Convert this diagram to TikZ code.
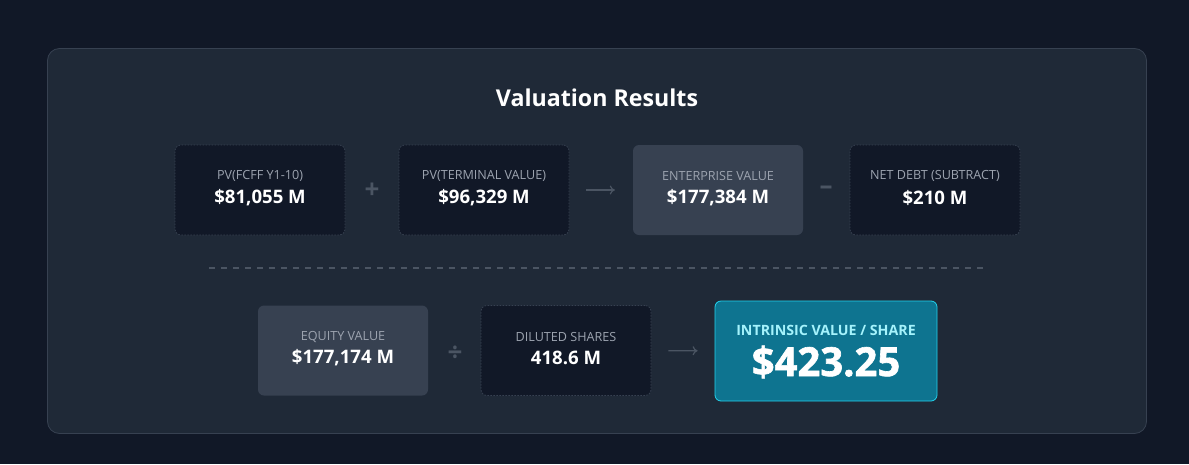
\documentclass[tikz,border=0pt]{standalone}
\usepackage{fontspec}
\setmainfont{Open Sans}
\newfontfamily\heavyfont{Open Sans}[BoldFeatures={FakeBold=1.6}]
\usetikzlibrary{arrows.meta,calc}

\definecolor{pagebg}{HTML}{111827}
\definecolor{panelbg}{HTML}{1F2937}
\definecolor{edge}{HTML}{374151}
\definecolor{lightbox}{HTML}{374151}
\definecolor{lbltext}{HTML}{9CA3AF}
\definecolor{optext}{HTML}{4B5563}
\definecolor{tealbox}{HTML}{0E7490}
\definecolor{tealedge}{HTML}{22D3EE}
\definecolor{teallbl}{HTML}{A5F3FC}

\begin{document}
\begin{tikzpicture}[x=1pt,y=-1pt,
    darkbox/.style={draw=edge,fill=pagebg,line width=0.8pt,dash pattern=on 1.5pt off 1.5pt,rounded corners=6pt,minimum width=170pt,minimum height=90pt,inner sep=0pt},
    litebox/.style={fill=lightbox,rounded corners=6pt,minimum width=170pt,minimum height=90pt,inner sep=0pt},
    lbl/.style={text=lbltext,font=\fontsize{12.6}{14}\selectfont,inner sep=0pt},
    val/.style={text=white,font=\fontsize{18.6}{21}\selectfont\bfseries,inner sep=0pt},
    op/.style={text=optext,font=\fontsize{26}{28}\selectfont\bfseries,inner sep=0pt},
    arr/.style={draw=optext,line width=1.2pt,-{To[length=5pt,width=9pt]}}]
    \useasboundingbox (0,0) rectangle (1189,464);
    \fill [pagebg] (0,0) rectangle (1189,464);
    \draw [edge,fill=panelbg,line width=0.8pt,rounded corners=12pt] (47.5,48.5) rectangle (1146.5,433.5);

    \node [text=white,font=\fontsize{23.2}{26}\selectfont\bfseries] (title) at (597,98) {Valuation Results};

    % first row
    \node [darkbox] (fcff) at (260,190) {};
    \node [darkbox] (tv)   at (484,190) {};
    \node [litebox] (ev)   at (718,190) {};
    \node [darkbox] (debt) at (935,190) {};

    \node [lbl] (fcff-l) at ($(fcff.center)+(0,-14)$) {PV(FCFF Y1-10)};
    \node [val] (fcff-v) at ($(fcff.center)+(0,8)$) {\$81,055 M};
    \node [lbl] (tv-l) at ($(tv.center)+(0,-14)$) {PV(TERMINAL VALUE)};
    \node [val] (tv-v) at ($(tv.center)+(0,8)$) {\$96,329 M};
    \node [lbl] (ev-l) at ($(ev.center)+(0,-14)$) {ENTERPRISE VALUE};
    \node [val] (ev-v) at ($(ev.center)+(0,8)$) {\$177,384 M};
    \node [lbl] (debt-l) at ($(debt.center)+(0,-14)$) {NET DEBT (SUBTRACT)};
    \node [val] (debt-v) at ($(debt.center)+(0,8)$) {\$210 M};

    \node [op] (plus) at (372,191) {+};
    \draw [arr,shorten <=17pt,shorten >=18pt] (tv) -- (ev);
    \node [op] (minus) at (826,190) {–};

    \draw [optext,line width=1.2pt,dash pattern=on 6pt off 6pt] (209,268) coordinate (sep-a) -- (985,268) coordinate (sep-b);

    % second row
    \node [litebox] (eq)  at (343,350.5) {};
    \node [darkbox] (sh)  at (566,350.5) {};
    \node [draw=tealedge,fill=tealbox,line width=0.8pt,rounded corners=6pt,minimum width=222pt,minimum height=100pt] (ivps) at (826,351) {};

    \node [lbl] (eq-l) at ($(eq.center)+(0,-13.5)$) {EQUITY VALUE};
    \node [val] (eq-v) at ($(eq.center)+(0,7.5)$) {\$177,174 M};
    \node [lbl] (sh-l) at ($(sh.center)+(0,-13.5)$) {DILUTED SHARES};
    \node [val] (sh-v) at ($(sh.center)+(0,7.5)$) {418.6 M};
    \node [text=teallbl,font=\fontsize{14.2}{16}\selectfont\bfseries,inner sep=0pt] (ivps-l) at ($(ivps.center)+(0,-21)$) {INTRINSIC VALUE / SHARE};
    \node [text=white,font=\heavyfont\fontsize{40}{44}\selectfont\bfseries,inner sep=0pt] (ivps-v) at ($(ivps.center)+(0,11)$) {\$423.25};

    \node [op] (div) at (455,354) {÷};
    \draw [arr,shorten <=17pt,shorten >=17pt] (sh) -- (ivps);
\end{tikzpicture}
\end{document}
